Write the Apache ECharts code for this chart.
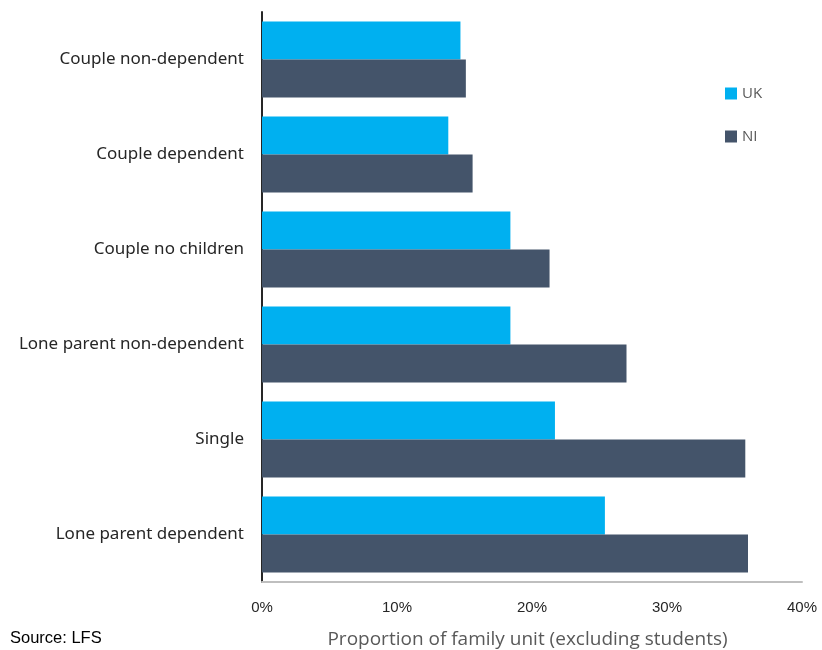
<!DOCTYPE html>
<html>
<head>
<meta charset="utf-8">
<script src="https://cdn.jsdelivr.net/npm/echarts@6/dist/echarts.min.js"></script>
<style>
  html, body { margin: 0; padding: 0; background: #fff; overflow: hidden; }
  #chart { width: 822px; height: 650px; }
</style>
</head>
<body>
<div id="chart"></div>
<script>
// Family unit types, listed top to bottom
const categories = [
  'Couple non-dependent',
  'Couple dependent',
  'Couple no children',
  'Lone parent non-dependent',
  'Single',
  'Lone parent dependent'
];
// Share of each family unit type (%)
const ukValues = [14.7, 13.8, 18.4, 18.4, 21.7, 25.4];
const niValues = [15.1, 15.6, 21.3, 27.0, 35.8, 36.0];
const xTicks = [0, 10, 20, 30, 40];

const chart = echarts.init(document.getElementById('chart'));
chart.setOption({
  animation: false,
  grid: {
    left: 262, right: 20, top: 12, bottom: 68,
    containLabel: false,
    outerBoundsMode: 'none'
  },
  legend: {
    orient: 'vertical',
    left: 720,
    top: 81,
    itemWidth: 12,
    itemHeight: 12,
    itemGap: 28,
    icon: 'rect',
    textStyle: { color: '#595959', fontSize: 15, fontFamily: 'Open Sans' },
    data: ['UK', 'NI']
  },
  xAxis: {
    type: 'value',
    min: xTicks[0],
    max: xTicks[xTicks.length - 1],
    interval: 10,
    name: 'Proportion of family unit (excluding students)',
    nameLocation: 'middle',
    nameGap: 48,
    nameTextStyle: {
      color: '#595959', fontSize: 19, fontFamily: 'Open Sans',
      padding: [0, 9, 0, 0]
    },
    axisLine: { show: true, lineStyle: { color: '#BFBFBF', width: 2 } },
    axisTick: { show: false },
    splitLine: { show: false },
    axisLabel: {
      formatter: v => v + '%',
      color: '#262626',
      fontSize: 15,
      fontFamily: 'Liberation Sans',
      margin: 18
    }
  },
  yAxis: {
    type: 'category',
    inverse: true,
    data: categories,
    axisLine: { show: true, lineStyle: { color: '#262626', width: 2 } },
    axisTick: { show: false },
    axisLabel: { color: '#262626', fontSize: 17, fontFamily: 'Noto Sans', margin: 18 }
  },
  series: [
    {
      name: 'UK',
      type: 'bar',
      data: ukValues,
      barCategoryGap: '20%',
      barGap: '0%',
      itemStyle: { color: '#00B0F0' }
    },
    {
      name: 'NI',
      type: 'bar',
      data: niValues,
      barCategoryGap: '20%',
      barGap: '0%',
      itemStyle: { color: '#44546A' }
    }
  ],
  graphic: [
    {
      type: 'text',
      left: 10,
      top: 630,
      style: { text: 'Source: LFS', fill: '#000', fontSize: 16.5, fontFamily: 'Liberation Sans' }
    }
  ]
});
</script>
</body>
</html>
